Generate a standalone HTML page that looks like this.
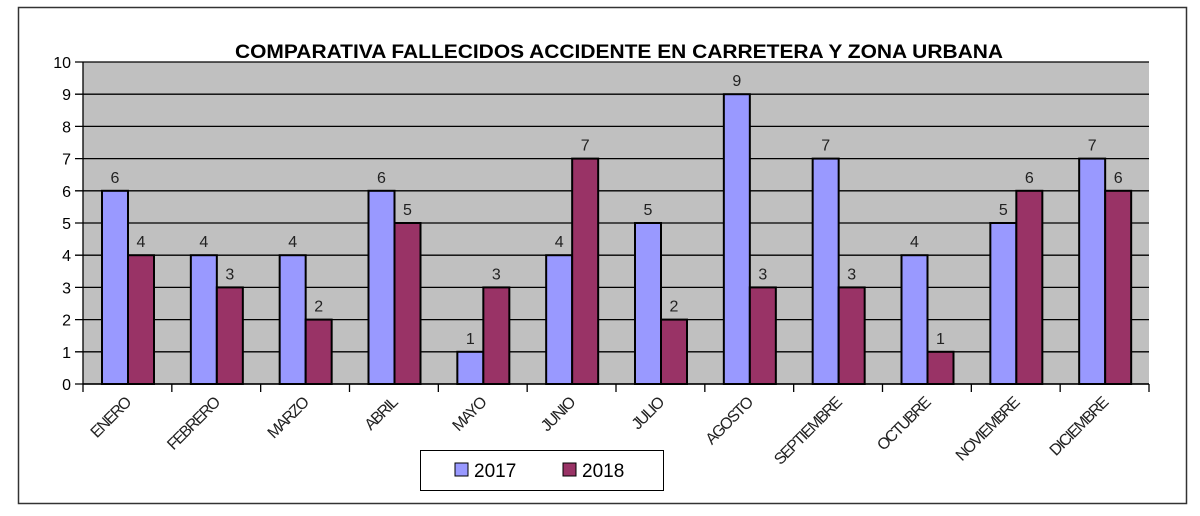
<!DOCTYPE html>
<html><head><meta charset="utf-8"><style>
body{margin:0;background:#fff;}
svg{display:block;font-family:"Liberation Sans",sans-serif;}
</style></head><body>
<svg width="1200" height="516">
<rect x="18.5" y="7.5" width="1168" height="496" fill="#fff" stroke="#333" stroke-width="1.5"/>
<text x="619" y="58" text-anchor="middle" font-size="19" font-weight="bold" textLength="768" lengthAdjust="spacingAndGlyphs">COMPARATIVA FALLECIDOS ACCIDENTE EN CARRETERA Y ZONA URBANA</text>
<g id="plot"></g>
<g>
<rect x="420.5" y="450.5" width="243" height="40" fill="#fff" stroke="#000"/>
<rect x="455" y="463" width="13" height="13" fill="#9999ff" stroke="#000"/>
<text x="474" y="477" font-size="19">2017</text>
<rect x="563" y="463" width="13" height="13" fill="#993366" stroke="#000"/>
<text x="582" y="477" font-size="19">2018</text>
</g>
</svg>
<script>
const categories=["ENERO","FEBRERO","MARZO","ABRIL","MAYO","JUNIO","JULIO","AGOSTO","SEPTIEMBRE","OCTUBRE","NOVIEMBRE","DICIEMBRE"];
const s2017=[6,4,4,6,1,4,5,9,7,4,5,7];
const s2018=[4,3,2,5,3,7,2,3,3,1,6,6];
const yTicks=[0,1,2,3,4,5,6,7,8,9,10];
const NS="http://www.w3.org/2000/svg";
const L=83,R=1149,T=62,B=384,yMax=10;
const cw=(R-L)/categories.length;
const y=v=>B-(B-T)*v/yMax;
const g=document.getElementById('plot');
function mk(tag,a){const e=document.createElementNS(NS,tag);for(const k in a)e.setAttribute(k,a[k]);g.appendChild(e);return e;}
const bg=mk('rect',{x:L,y:T,width:R-L,height:B-T,fill:'#c0c0c0'});


yTicks.forEach(t=>{
 const l=mk('line',{x1:L-8,x2:R,y1:y(t),y2:y(t),stroke:'#000','stroke-width':1.3});
 
 
 const tx=mk('text',{x:L-12,y:y(t)+6,'text-anchor':'end','font-size':16});
 tx.textContent=t;
 
 
});
const ax=mk('line',{x1:L,x2:L,y1:T,y2:B,stroke:'#000','stroke-width':1.3});


for(let i=0;i<=categories.length;i++){
 const tk=mk('line',{x1:L+i*cw,x2:L+i*cw,y1:B,y2:B+8,stroke:'#000','stroke-width':1.3});
 
 
}
const bw=26;
categories.forEach((c,i)=>{
 const x0=L+i*cw+19;
 [[s2017,'#9999ff','2017'],[s2018,'#993366','2018']].forEach((s,j)=>{
  const v=s[0][i],bx=x0+j*bw;
  const r=mk('rect',{x:bx,y:y(v),width:bw,height:B-y(v),fill:s[1],stroke:'#000','stroke-width':2});
  
  
  const t=mk('text',{x:bx+bw/2,y:y(v)-8,'text-anchor':'middle','font-size':16,fill:'#222'});
  t.textContent=v;
  
  
 });
 const cx=L+i*cw+cw/2+4;
 const t=mk('text',{x:cx,y:404,'text-anchor':'end','font-size':16,'letter-spacing':'-1.6',transform:`rotate(-45 ${cx} 404)`,fill:'#222'});
 t.textContent=c;
 
 
});
const xa=mk('line',{x1:L,x2:R,y1:B,y2:B,stroke:'#000','stroke-width':1.5});


</script>
</body></html>
